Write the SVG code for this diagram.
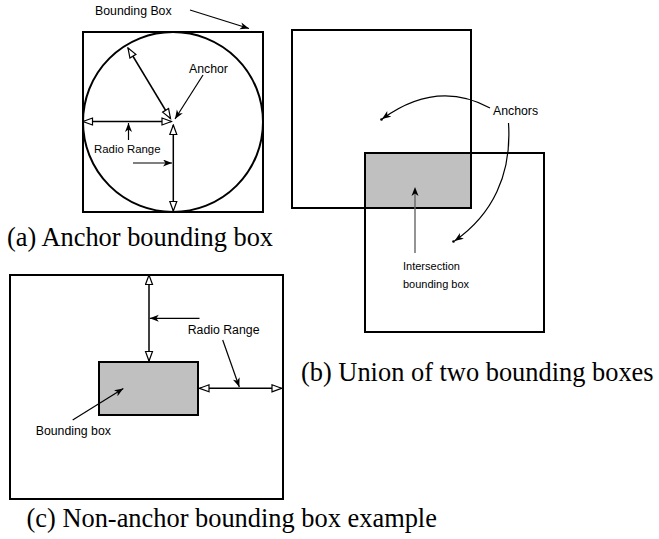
<svg xmlns="http://www.w3.org/2000/svg" width="659" height="539" viewBox="0 0 659 539">
<defs>
<style>
.box{fill:none;stroke:#000;stroke-width:2}
.grey{fill:#c0c0c0;stroke:#000;stroke-width:2}
.dbl{fill:none;stroke:#000;stroke-width:1.5;marker-start:url(#open);marker-end:url(#open)}
.ptr{fill:none;stroke:#000;stroke-width:1.2;marker-end:url(#solid)}
.lbl{font-family:"Liberation Sans",Arial,sans-serif;font-size:12.3px;fill:#000}
.cap{font-family:"Liberation Serif","Times New Roman",serif;font-size:26.4px;fill:#000}
</style>
<marker id="open" markerUnits="userSpaceOnUse" markerWidth="12" markerHeight="10" viewBox="-1 -1 12 10" refX="9.5" refY="3.5" orient="auto-start-reverse">
<path d="M0,0 L9.5,3.5 L0,7 Z" fill="#fff" stroke="#000" stroke-width="1.2"/>
</marker>
<marker id="solid" markerUnits="userSpaceOnUse" markerWidth="12" markerHeight="10" viewBox="0 0 12 10" refX="9" refY="3.5" orient="auto">
<path d="M0,0 L9,3.5 L0,7 L2.5,3.5 Z" fill="#000"/>
</marker>
</defs>
<rect width="659" height="539" fill="#fff"/>

<g id="panel-a">
<rect class="box" x="83" y="32" width="180" height="180"/>
<circle class="box" cx="173" cy="122" r="90"/>
<text class="lbl" x="95" y="15">Bounding Box</text>
<text class="lbl" x="189" y="72.7">Anchor</text>
<text class="lbl" x="94" y="153.3" style="font-size:11.4px">Radio Range</text>
</g>

<g id="panel-b">
<rect class="box" x="292" y="30" width="179" height="178"/>
<rect class="box" x="365" y="153" width="179" height="179"/>
<rect class="grey" x="365" y="153" width="106" height="55"/>
<circle cx="381.5" cy="119.5" r="1.3" fill="#000"/>
<circle cx="453.5" cy="241.5" r="1.3" fill="#000"/>
<text class="lbl" x="493" y="115">Anchors</text>
<text class="lbl" x="403" y="270" style="font-size:11px">Intersection</text>
<text class="lbl" x="403" y="288" style="font-size:11px">bounding box</text>
</g>

<g id="panel-c">
<rect class="box" x="10" y="275" width="273" height="224"/>
<rect class="grey" x="99" y="362" width="99" height="53"/>
<text class="lbl" x="187.7" y="334">Radio Range</text>
<text class="lbl" x="35.7" y="435">Bounding box</text>
</g>

<g id="captions">
<text class="cap" x="7" y="246">(a) Anchor bounding box</text>
<text class="cap" x="301" y="381">(b) Union of two bounding boxes</text>
<text class="cap" x="26.5" y="527">(c) Non-anchor bounding box example</text>
</g>

<g id="connectors">
<line class="ptr" x1="190" y1="10" x2="249" y2="28.5"/>
<line class="dbl" x1="170.5" y1="118.5" x2="128" y2="48"/>
<line class="dbl" x1="83" y1="121.5" x2="171.5" y2="121.5"/>
<line class="dbl" x1="173.3" y1="125" x2="173.3" y2="211"/>
<line class="ptr" x1="203" y1="75" x2="175" y2="119"/>
<line class="ptr" x1="128.5" y1="140" x2="128.5" y2="123"/>
<line class="ptr" x1="133" y1="163" x2="172" y2="163"/>
<path class="ptr" d="M490,108 Q437,79 382,119"/>
<path class="ptr" d="M508.5,123 C512,175 492,215 454.5,241"/>
<line x1="415" y1="253" x2="415" y2="192" stroke="#666" stroke-width="1.4"/>
<path d="M411.5,196 L415,187 L418.5,196 L415,193.5 Z" fill="#000"/>
<line class="dbl" x1="149" y1="275" x2="149" y2="361"/>
<line class="ptr" x1="199.5" y1="318.3" x2="149.8" y2="318.3"/>
<line class="ptr" x1="222.7" y1="340" x2="239.3" y2="387"/>
<line class="dbl" x1="199.5" y1="388.3" x2="281.5" y2="388.3"/>
<line class="ptr" x1="72.7" y1="420" x2="123.3" y2="388.5"/>
</g>
</svg>
